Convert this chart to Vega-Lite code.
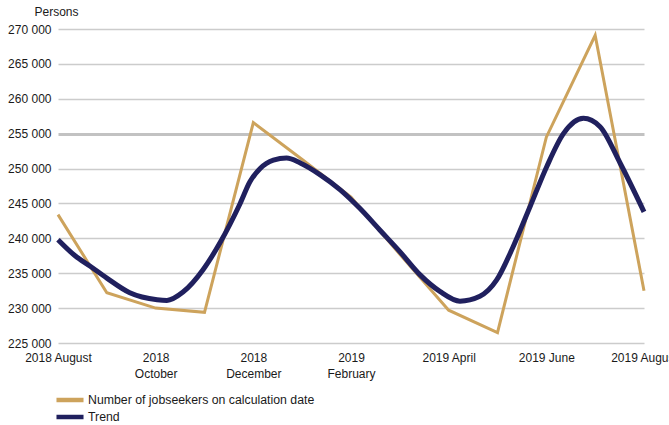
{
  "$schema": "https://vega.github.io/schema/vega-lite/v6.json",
  "width": 586,
  "height": 314,
  "autosize": {"type": "none"},
  "padding": {"left": 58, "top": 29, "right": 25, "bottom": 82},
  "background": "white",
  "config": {
    "view": {"stroke": null},
    "font": "Liberation Sans",
    "legend": {"padding": 0}
  },
  "datasets": {
    "jobseekers": [
      {"t": 0, "value": 243400, "series": "Number of jobseekers on calculation date"},
      {"t": 1, "value": 232200, "series": "Number of jobseekers on calculation date"},
      {"t": 2, "value": 230000, "series": "Number of jobseekers on calculation date"},
      {"t": 3, "value": 229400, "series": "Number of jobseekers on calculation date"},
      {"t": 4, "value": 256600, "series": "Number of jobseekers on calculation date"},
      {"t": 5, "value": 251300, "series": "Number of jobseekers on calculation date"},
      {"t": 6, "value": 245900, "series": "Number of jobseekers on calculation date"},
      {"t": 7, "value": 237700, "series": "Number of jobseekers on calculation date"},
      {"t": 8, "value": 229700, "series": "Number of jobseekers on calculation date"},
      {"t": 9, "value": 226500, "series": "Number of jobseekers on calculation date"},
      {"t": 10, "value": 254500, "series": "Number of jobseekers on calculation date"},
      {"t": 11, "value": 269100, "series": "Number of jobseekers on calculation date"},
      {"t": 12, "value": 232500, "series": "Number of jobseekers on calculation date"}
    ],
    "trend": [
      {"t": 0, "value": 239800, "series": "Trend"},
      {"t": 0.35, "value": 237500, "series": "Trend"},
      {"t": 0.66, "value": 236000, "series": "Trend"},
      {"t": 1.0, "value": 234300, "series": "Trend"},
      {"t": 1.47, "value": 232200, "series": "Trend"},
      {"t": 2.03, "value": 231200, "series": "Trend"},
      {"t": 2.23, "value": 231100, "series": "Trend"},
      {"t": 2.56, "value": 232300, "series": "Trend"},
      {"t": 2.97, "value": 235500, "series": "Trend"},
      {"t": 3.32, "value": 239400, "series": "Trend"},
      {"t": 3.73, "value": 245000, "series": "Trend"},
      {"t": 3.93, "value": 248100, "series": "Trend"},
      {"t": 4.14, "value": 250000, "series": "Trend"},
      {"t": 4.41, "value": 251200, "series": "Trend"},
      {"t": 4.68, "value": 251500, "series": "Trend"},
      {"t": 4.96, "value": 250800, "series": "Trend"},
      {"t": 5.37, "value": 249100, "series": "Trend"},
      {"t": 5.78, "value": 246950, "series": "Trend"},
      {"t": 6.18, "value": 244300, "series": "Trend"},
      {"t": 6.59, "value": 241200, "series": "Trend"},
      {"t": 7.0, "value": 238100, "series": "Trend"},
      {"t": 7.41, "value": 234800, "series": "Trend"},
      {"t": 7.82, "value": 232400, "series": "Trend"},
      {"t": 8.23, "value": 231000, "series": "Trend"},
      {"t": 8.64, "value": 231700, "series": "Trend"},
      {"t": 8.98, "value": 234000, "series": "Trend"},
      {"t": 9.32, "value": 238800, "series": "Trend"},
      {"t": 9.67, "value": 244600, "series": "Trend"},
      {"t": 10.01, "value": 250300, "series": "Trend"},
      {"t": 10.35, "value": 255000, "series": "Trend"},
      {"t": 10.76, "value": 257200, "series": "Trend"},
      {"t": 11.1, "value": 256000, "series": "Trend"},
      {"t": 11.51, "value": 250800, "series": "Trend"},
      {"t": 12.0, "value": 243800, "series": "Trend"}
    ]
  },
  "encoding": {
    "x": {
      "field": "t",
      "type": "quantitative",
      "scale": {"domain": [0, 12], "nice": false, "zero": false},
      "axis": {
        "values": [0, 2, 4, 6, 8, 10, 12],
        "title": null,
        "grid": false,
        "domain": false,
        "ticks": false,
        "labelFlush": false,
        "labelOverlap": false,
        "labelBound": false,
        "labelFontSize": 12,
        "labelColor": "#1a1a1a",
        "labelPadding": 9,
        "labelLineHeight": 16,
        "labelExpr": "datum.value == 0 ? '2018 August' : datum.value == 2 ? ['2018', 'October'] : datum.value == 4 ? ['2018', 'December'] : datum.value == 6 ? ['2019', 'February'] : datum.value == 8 ? '2019 April' : datum.value == 10 ? '2019 June' : '2019 August'"
      }
    },
    "y": {
      "field": "value",
      "type": "quantitative",
      "scale": {"domain": [225000, 270000], "nice": false, "zero": false},
      "axis": {
        "values": [225000, 230000, 235000, 240000, 245000, 250000, 255000, 260000, 265000, 270000],
        "title": "Persons",
        "titleAngle": 0,
        "titleX": -2,
        "titleY": -18,
        "titleAlign": "center",
        "titleBaseline": "middle",
        "titleFontWeight": "normal",
        "titleFontSize": 12,
        "titleColor": "#1a1a1a",
        "domain": false,
        "ticks": false,
        "labelPadding": 7,
        "labelFontSize": 12,
        "labelColor": "#1a1a1a",
        "labelExpr": "replace(format(datum.value, ','), ',', ' ')",
        "gridColor": {"condition": {"test": "datum.value === 255000", "value": "#c2c2c2"}, "value": "#cccccc"},
        "gridWidth": {"condition": {"test": "datum.value === 255000", "value": 3}, "value": 1.5}
      }
    },
    "color": {
      "field": "series",
      "type": "nominal",
      "scale": {
        "domain": ["Number of jobseekers on calculation date", "Trend"],
        "range": ["#CDA35C", "#20205E"]
      },
      "legend": {
        "title": null,
        "orient": "none",
        "legendX": 4,
        "legendY": 363,
        "direction": "vertical",
        "symbolType": "M-2.5,0H2.5",
        "symbolSize": 117,
        "symbolStrokeWidth": 4.5,
        "labelFontSize": 12.3,
        "labelColor": "#1a1a1a",
        "labelOffset": 10,
        "labelLimit": 400,
        "rowPadding": -2
      }
    }
  },
  "layer": [
    {
      "data": {"name": "jobseekers"},
      "mark": {"type": "line", "strokeWidth": 3}
    },
    {
      "data": {"name": "trend"},
      "mark": {"type": "line", "strokeWidth": 5, "interpolate": "monotone"}
    }
  ]
}
